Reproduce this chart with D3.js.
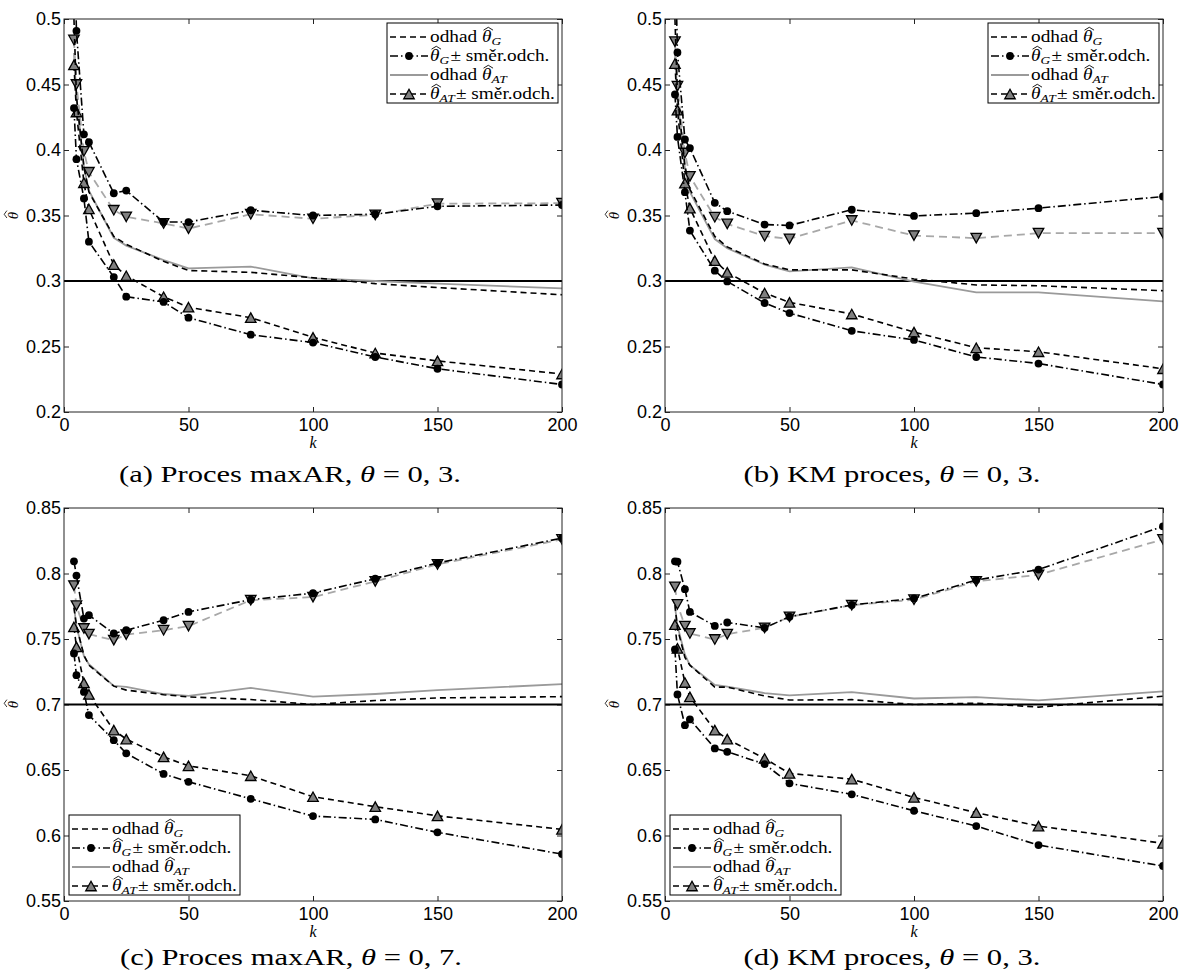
<!DOCTYPE html>
<html><head><meta charset="utf-8">
<script src="https://cdn.jsdelivr.net/npm/d3@7"></script>
<style>
body{margin:0;background:#fff;}
svg{display:block;}
text{white-space:pre;}
</style></head><body>
<svg id="chart" width="1179" height="976"></svg>
<script>
// ---------- DATA ----------
const kValues = [4, 5, 8, 10, 20, 25, 40, 50, 75, 100, 125, 150, 200];
const xTicks = [0, 50, 100, 150, 200];
const yTicksTop = [0.2, 0.25, 0.3, 0.35, 0.4, 0.45, 0.5];
const yTickLabelsTop = ["0.2", "0.25", "0.3", "0.35", "0.4", "0.45", "0.5"];
const yTicksBottom = [0.55, 0.6, 0.65, 0.7, 0.75, 0.8, 0.85];
const yTickLabelsBottom = ["0.55", "0.6", "0.65", "0.7", "0.75", "0.8", "0.85"];

// (a) maxAR, theta = 0.3
const gMeanA = [0.500, 0.441, 0.387, 0.368, 0.334, 0.328, 0.315, 0.308, 0.3066, 0.3025, 0.298, 0.295, 0.2895];
const gUpA   = [0.570, 0.491, 0.412, 0.406, 0.367, 0.369, 0.345, 0.345, 0.354, 0.350, 0.351, 0.357, 0.358];
const gLoA   = [0.432, 0.393, 0.363, 0.330, 0.303, 0.288, 0.284, 0.272, 0.259, 0.253, 0.242, 0.233, 0.221];
const atMeanA = [0.474, 0.440, 0.387, 0.369, 0.333, 0.327, 0.316, 0.3096, 0.311, 0.302, 0.300, 0.298, 0.2944];
const atUpA   = [0.484, 0.450, 0.399, 0.383, 0.354, 0.349, 0.344, 0.340, 0.351, 0.3475, 0.3505, 0.359, 0.3594];
const atLoA   = [0.465, 0.429, 0.375, 0.355, 0.3125, 0.304, 0.288, 0.280, 0.272, 0.257, 0.245, 0.239, 0.229];

// (b) KM, theta = 0.3
const gMeanB = [0.500, 0.442, 0.388, 0.370, 0.334, 0.326, 0.313, 0.3085, 0.3085, 0.3015, 0.297, 0.2964, 0.2926];
const gUpB   = [0.560, 0.4745, 0.408, 0.4015, 0.3597, 0.3533, 0.3431, 0.3424, 0.3544, 0.3497, 0.3518, 0.3556, 0.3645];
const gLoB   = [0.4424, 0.410, 0.3678, 0.3385, 0.3079, 0.2997, 0.2832, 0.2755, 0.262, 0.255, 0.242, 0.237, 0.221];
const atMeanB = [0.474, 0.4396, 0.386, 0.368, 0.332, 0.325, 0.3125, 0.3074, 0.3104, 0.2995, 0.2913, 0.2913, 0.2844];
const atUpB   = [0.4827, 0.4487, 0.3977, 0.3799, 0.3487, 0.3436, 0.3342, 0.3322, 0.3462, 0.3347, 0.3327, 0.3365, 0.3365];
const atLoB   = [0.466, 0.4304, 0.3747, 0.3556, 0.3156, 0.3066, 0.2908, 0.2837, 0.2748, 0.261, 0.249, 0.246, 0.233];

// (c) maxAR, theta = 0.7
const gMeanC = [0.774, 0.760, 0.7376, 0.730, 0.714, 0.711, 0.7075, 0.7058, 0.7038, 0.700, 0.703, 0.705, 0.706];
const gUpC   = [0.8093, 0.7984, 0.7656, 0.7682, 0.7542, 0.7567, 0.7643, 0.7707, 0.780, 0.785, 0.796, 0.808, 0.827];
const gLoC   = [0.739, 0.7224, 0.7096, 0.6919, 0.6728, 0.6627, 0.647, 0.641, 0.628, 0.6148, 0.6123, 0.6024, 0.5858];
const atMeanC = [0.775, 0.7598, 0.737, 0.7307, 0.7142, 0.7135, 0.708, 0.7066, 0.7127, 0.706, 0.708, 0.711, 0.7155];
const atUpC   = [0.7908, 0.7755, 0.758, 0.7537, 0.7491, 0.7534, 0.7567, 0.7598, 0.7796, 0.782, 0.794, 0.807, 0.826];
const atLoC   = [0.7592, 0.744, 0.7165, 0.7077, 0.6804, 0.6736, 0.660, 0.6532, 0.6456, 0.6296, 0.622, 0.615, 0.6047];

// (d) KM, theta = 0.7
const gMeanD = [0.776, 0.758, 0.736, 0.730, 0.7133, 0.7133, 0.7065, 0.7034, 0.7037, 0.700, 0.701, 0.698, 0.7063];
const gUpD   = [0.8093, 0.809, 0.788, 0.7707, 0.760, 0.7626, 0.7585, 0.767, 0.776, 0.781, 0.795, 0.803, 0.836];
const gLoD   = [0.742, 0.7077, 0.6842, 0.6886, 0.6665, 0.6639, 0.6545, 0.6398, 0.6314, 0.6189, 0.6072, 0.5927, 0.5767];
const atMeanD = [0.775, 0.760, 0.738, 0.730, 0.715, 0.7137, 0.7087, 0.707, 0.7094, 0.7046, 0.7057, 0.7031, 0.710];
const atUpD   = [0.7898, 0.7765, 0.7598, 0.7542, 0.7496, 0.7537, 0.7585, 0.7669, 0.7758, 0.780, 0.794, 0.799, 0.826];
const atLoD   = [0.761, 0.7428, 0.7168, 0.7058, 0.6804, 0.6736, 0.6588, 0.6474, 0.643, 0.6291, 0.6174, 0.6072, 0.594];

const thetaTrue = [0.3, 0.3, 0.7, 0.7];

const legendLabels = [
  [{t:"odhad "}, {t:"θ", it:true, hat:true}, {t:"G", it:true, sub:true}],
  [{t:"θ", it:true, hat:true}, {t:"G", it:true, sub:true}, {t:"± směr.odch."}],
  [{t:"odhad "}, {t:"θ", it:true, hat:true}, {t:"AT", it:true, sub:true}],
  [{t:"θ", it:true, hat:true}, {t:"AT", it:true, sub:true}, {t:"± směr.odch."}]
];
const captionTexts = [
  [{t:"(a) Proces maxAR, "}, {t:"θ", it:true}, {t:" = 0, 3."}],
  [{t:"(b) KM proces, "}, {t:"θ", it:true}, {t:" = 0, 3."}],
  [{t:"(c) Proces maxAR, "}, {t:"θ", it:true}, {t:" = 0, 7."}],
  [{t:"(d) KM proces, "}, {t:"θ", it:true}, {t:" = 0, 3."}]
];

// ---------- LAYOUT / STYLE ----------
const SERIF = "Liberation Serif, Times New Roman, serif";
const SANS = "Liberation Sans, Arial, Helvetica, sans-serif";
const svg = d3.select("#chart");
svg.append("rect").attr("width", 1179).attr("height", 976).attr("fill", "#fff");

const panels = [
  {id:"a", x0:64,  y0:19,  w:498, h:393, ydom:[0.2,0.5],  ticks:yTicksTop, labels:yTickLabelsTop, theta:thetaTrue[0],
   g:[gMeanA,gUpA,gLoA], at:[atMeanA,atUpA,atLoA], legend:"ne", cap:captionTexts[0], capX:290, capY:482, capW:342},
  {id:"b", x0:665, y0:19,  w:498, h:393, ydom:[0.2,0.5],  ticks:yTicksTop, labels:yTickLabelsTop, theta:thetaTrue[1],
   g:[gMeanB,gUpB,gLoB], at:[atMeanB,atUpB,atLoB], legend:"ne", cap:captionTexts[1], capX:892, capY:482, capW:297},
  {id:"c", x0:64,  y0:508, w:498, h:393, ydom:[0.55,0.85], ticks:yTicksBottom, labels:yTickLabelsBottom, theta:thetaTrue[2],
   g:[gMeanC,gUpC,gLoC], at:[atMeanC,atUpC,atLoC], legend:"sw", cap:captionTexts[2], capX:291, capY:965, capW:342},
  {id:"d", x0:665, y0:508, w:498, h:393, ydom:[0.55,0.85], ticks:yTicksBottom, labels:yTickLabelsBottom, theta:thetaTrue[3],
   g:[gMeanD,gUpD,gLoD], at:[atMeanD,atUpD,atLoD], legend:"sw", cap:captionTexts[3], capX:892, capY:965, capW:297}
];

const ST = {
  gMean: {stroke:"#000", width:1.6, dash:"6,4"},
  gBand: {stroke:"#000", width:1.6, dash:"8,3,1.5,3"},
  atMean:{stroke:"#9a9a9a", width:1.8, dash:null},
  atUp:  {stroke:"#a8a8a8", width:1.8, dash:"8,5"},
  atLo:  {stroke:"#000", width:1.6, dash:"6,4"}
};

function triPath(up, w, h) {
  return up ? `M0,${-h/2}L${w/2},${h/2}L${-w/2},${h/2}Z` : `M0,${h/2}L${w/2},${-h/2}L${-w/2},${-h/2}Z`;
}

function richText(parent, segs, size) {
  const g = parent.append("g");
  let cx = 0;
  segs.forEach(s => {
    const fs = s.sub ? size * 0.7 : size;
    const t = g.append("text")
      .attr("x", cx).attr("y", s.sub ? size * 0.2 : 0)
      .style("font-family", SERIF).attr("font-size", fs)
      .attr("font-style", s.it ? "italic" : "normal")
      .attr("fill", "#000").text(s.t);
    const w = t.node().getComputedTextLength();
    if (s.hat) {
      const top = -size * 0.74, sl = size * 0.08;
      g.append("path")
        .attr("d", `M${cx + sl},${top} L${cx + w/2 + sl},${top - size*0.18} L${cx + w + sl},${top}`)
        .attr("fill", "none").attr("stroke", "#000").attr("stroke-width", 0.8);
    }
    cx += w + (s.sub ? 1 : 0);
  });
  return {g, width: cx};
}

function drawPanel(p) {
  const x = d3.scaleLinear().domain([0, 200]).range([p.x0, p.x0 + p.w]);
  const y = d3.scaleLinear().domain(p.ydom).range([p.y0 + p.h, p.y0]);
  const root = svg.append("g");

  root.append("clipPath").attr("id", "clip" + p.id)
    .append("rect").attr("x", p.x0).attr("y", p.y0).attr("width", p.w).attr("height", p.h);

  const ax = root.append("g");
  ax.append("g").attr("transform", `translate(0,${p.y0 + p.h})`)
    .call(d3.axisBottom(x).tickValues(xTicks).tickSizeInner(-5).tickSizeOuter(0).tickPadding(6).tickFormat(d3.format("d")));
  ax.append("g").attr("transform", `translate(0,${p.y0})`)
    .call(d3.axisTop(x).tickValues(xTicks).tickSizeInner(-5).tickSizeOuter(0).tickFormat(""));
  ax.append("g").attr("transform", `translate(${p.x0},0)`)
    .call(d3.axisLeft(y).tickValues(p.ticks).tickSizeInner(-5).tickSizeOuter(0).tickPadding(3)
      .tickFormat((d, i) => p.labels[i]));
  ax.append("g").attr("transform", `translate(${p.x0 + p.w},0)`)
    .call(d3.axisRight(y).tickValues(p.ticks).tickSizeInner(-5).tickSizeOuter(0).tickFormat(""));
  ax.selectAll(".domain").remove();
  ax.selectAll(".tick line").attr("stroke", "#222").attr("stroke-width", 1);
  ax.selectAll(".tick text").attr("font-size", 18).attr("fill", "#000").style("font-family", SANS);

  const plot = root.append("g").attr("clip-path", `url(#clip${p.id})`);

  plot.append("line").attr("x1", x(0)).attr("x2", x(200)).attr("y1", y(p.theta)).attr("y2", y(p.theta))
    .attr("stroke", "#000").attr("stroke-width", 1.8);

  const line = d3.line().x(d => x(d[0])).y(d => y(d[1]));
  const pts = arr => kValues.map((k, i) => [k, arr[i]]);
  function path(arr, st) {
    plot.append("path").attr("d", line(pts(arr))).attr("fill", "none")
      .attr("stroke", st.stroke).attr("stroke-width", st.width)
      .attr("stroke-dasharray", st.dash);
  }
  function tris(arr, up) {
    plot.append("g").selectAll("path").data(pts(arr)).join("path")
      .attr("transform", d => `translate(${x(d[0])},${y(d[1])})`)
      .attr("d", triPath(up, 10.5, 9.5))
      .attr("fill", "#808080").attr("stroke", "#000").attr("stroke-width", 1.3);
  }
  function dots(arr) {
    plot.append("g").selectAll("circle").data(pts(arr)).join("circle")
      .attr("cx", d => x(d[0])).attr("cy", d => y(d[1])).attr("r", 3.9).attr("fill", "#000");
  }

  path(p.at[0], ST.atMean);
  path(p.at[1], ST.atUp); tris(p.at[1], false);
  path(p.at[2], ST.atLo); tris(p.at[2], true);
  path(p.g[0], ST.gMean);
  path(p.g[1], ST.gBand); dots(p.g[1]);
  path(p.g[2], ST.gBand); dots(p.g[2]);

  root.append("rect").attr("x", p.x0).attr("y", p.y0).attr("width", p.w).attr("height", p.h)
    .attr("fill", "none").attr("stroke", "#222").attr("stroke-width", 1);

  root.append("text").attr("x", p.x0 + p.w / 2).attr("y", p.y0 + p.h + 36)
    .attr("text-anchor", "middle").style("font-family", SERIF).attr("font-style", "italic")
    .attr("font-size", 16).text("k");

  const yl = root.append("g").attr("transform", `translate(${p.x0 - 46},${p.y0 + p.h / 2}) rotate(-90)`);
  const ylt = richText(yl, [{t:"θ", it:true, hat:true}], 15);
  ylt.g.attr("transform", `translate(${-ylt.width / 2},0)`);

  const bw = 171, bh = 80;
  const bx = p.legend === "ne" ? p.x0 + p.w - 4 - bw : p.x0 + 5;
  const by = p.legend === "ne" ? p.y0 + 4 : p.y0 + p.h - 6 - bh;
  const lg = root.append("g");
  lg.append("rect").attr("x", bx).attr("y", by).attr("width", bw).attr("height", bh)
    .attr("fill", "#fff").attr("stroke", "#000").attr("stroke-width", 1);
  const sampleStyles = [ST.gMean, ST.gBand, ST.atMean, ST.atLo];
  const rows = [];
  legendLabels.forEach((segs, i) => {
    const ly = by + 14 + i * 19;
    const st = sampleStyles[i];
    lg.append("line").attr("x1", bx + 3).attr("x2", bx + 41).attr("y1", ly).attr("y2", ly)
      .attr("stroke", st.stroke).attr("stroke-width", st.width).attr("stroke-dasharray", st.dash);
    if (i === 1) lg.append("circle").attr("cx", bx + 22).attr("cy", ly).attr("r", 3.9).attr("fill", "#000");
    if (i === 3) lg.append("path").attr("transform", `translate(${bx + 22},${ly})`).attr("d", triPath(true, 10.5, 9.5))
      .attr("fill", "#808080").attr("stroke", "#000").attr("stroke-width", 1.3);
    const rt = richText(lg, segs, 16);
    rows.push({rt, ly});
  });
  const maxW = d3.max(rows, r => r.rt.width);
  const sx = (bw - 43 - 3) / maxW;
  rows.forEach(r => r.rt.g.attr("transform", `translate(${bx + 43},${r.ly + 5}) scale(${sx},1)`));

  const cg = root.append("g");
  const ct = richText(cg, p.cap, 24);
  const csx = p.capW / ct.width;
  ct.g.attr("transform", `translate(${p.capX - p.capW / 2},${p.capY}) scale(${csx},1)`);
}

panels.forEach(drawPanel);
</script>
</body></html>
